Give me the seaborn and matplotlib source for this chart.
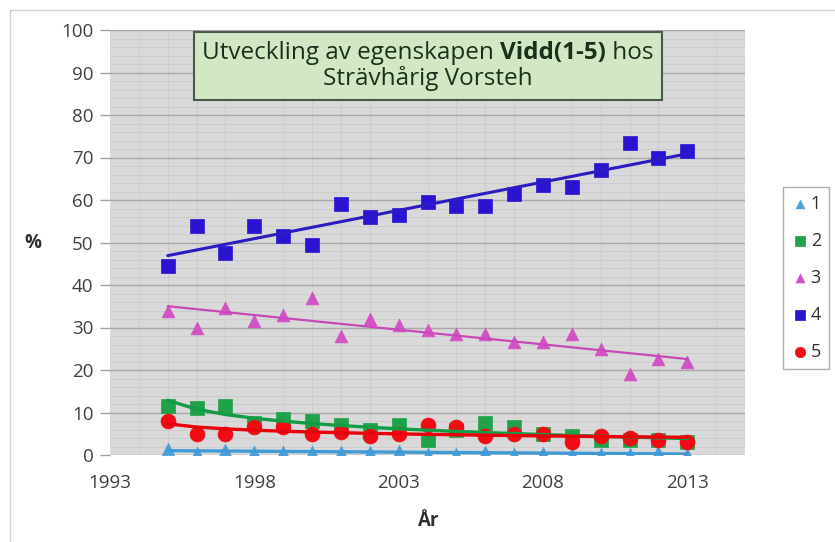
import numpy as np
import pandas as pd
import seaborn as sns
import matplotlib.pyplot as plt
from matplotlib.lines import Line2D
from matplotlib.offsetbox import TextArea, HPacker, VPacker, AnchoredOffsetbox

# Data
years = list(range(1995, 2014))
labels = ['1', '2', '3', '4', '5']
vidd_1 = [1.5, 0.5, 1.2, 0.8, 0.8, 0.8, 0.8, 0.8, 1.0, 0.3, 0.2, 0.6, 0.3, 0.4, 0.2, 0.3, 0.3, 0.8, 0.3]
vidd_2 = [11.5, 11.0, 11.5, 7.5, 8.5, 8.0, 7.0, 6.0, 7.0, 3.5, 6.0, 7.5, 6.5, 5.0, 4.5, 3.5, 3.5, 3.5, 3.0]
vidd_3 = [34.0, 30.0, 34.5, 31.5, 33.0, 37.0, 28.0, 32.0, 30.5, 29.5, 28.5, 28.5, 26.5, 26.5, 28.5, 25.0, 19.0, 22.5, 22.0]
vidd_4 = [44.5, 54.0, 47.5, 54.0, 51.5, 49.5, 59.0, 56.0, 56.5, 59.5, 58.5, 58.5, 61.5, 63.5, 63.0, 67.0, 73.5, 70.0, 71.5]
vidd_5 = [8.0, 5.0, 5.0, 6.5, 6.5, 5.0, 5.5, 4.5, 5.0, 7.0, 6.5, 4.5, 5.0, 5.0, 3.0, 4.5, 4.0, 3.5, 3.0]

series = [vidd_1, vidd_2, vidd_3, vidd_4, vidd_5]
markers = ['^', 's', '^', 's', 'o']
sizes = [80, 110, 85, 110, 115]
point_colors = ['#4d9fd6', '#1fa24a', '#d254c4', '#2a14d2', '#f20a14']
line_colors = ['#3f9ad6', '#119c45', '#c84ab8', '#2a1cc0', '#e8000a']
line_widths = [2.4, 2.4, 1.6, 2.2, 2.4]
trend_kind = ['lin', 'log', 'lin', 'lin', 'log']

sns.set_style('white')
plt.rcParams['font.family'] = ['Open Sans', 'DejaVu Sans']

fig = plt.figure(figsize=(8.35, 5.42), dpi=100)
ax = fig.add_axes([110 / 835, 87 / 542, 635 / 835, 425 / 542])
ax.set_facecolor('#d9d9d9')

x = np.array(years, dtype=float)
idx = np.arange(1, len(years) + 1)
for i, vals in enumerate(series):
    y = np.array(vals)
    sns.scatterplot(x=x, y=y, marker=markers[i], s=sizes[i], color=point_colors[i],
                    edgecolor=point_colors[i], linewidth=0.5, ax=ax, zorder=2 + i * 0.1,
                    label=labels[i])
    # Excel style trend lines
    if trend_kind[i] == 'lin':
        fit = np.polyval(np.polyfit(x, y, 1), x)
    else:
        b, a = np.polyfit(np.log(idx), y, 1)
        fit = a + b * np.log(idx)
    sns.lineplot(x=x, y=fit, color=line_colors[i], linewidth=line_widths[i],
                 ax=ax, zorder=4 + i * 0.1, legend=False)

ax.set_xlim(1993, 2015)
ax.set_ylim(0, 100)
ax.set_xticks([1993, 1998, 2003, 2008, 2013])
ax.set_yticks(range(0, 101, 10))
ax.set_xticks(range(1993, 2016), minor=True)
ax.set_yticks(range(0, 101, 2), minor=True)
ax.grid(which='major', axis='y', color='#a9a9a9', linewidth=1.0, zorder=0)
ax.grid(which='minor', color='#cbcbcb', linewidth=0.6, zorder=0)
ax.set_axisbelow(True)
for sp in ax.spines.values():
    sp.set_visible(False)
ax.tick_params(axis='y', which='major', length=7, color='#a0a0a0', width=1,
               labelsize=13.5, labelcolor='#404040', pad=5, left=True)
ax.tick_params(axis='x', which='major', length=0, labelsize=13.5, labelcolor='#404040', pad=14)
ax.tick_params(which='minor', length=0)

ax.set_xlabel('År', fontsize=13.5, fontweight='bold', color='#303030', labelpad=13)
ax.set_ylabel('%', fontsize=13.5, fontweight='bold', color='#303030', rotation=0,
              labelpad=20, va='center')

# legend (markers only)
leg = ax.legend(loc='center', bbox_to_anchor=(806 / 835, 264 / 542),
                bbox_transform=fig.transFigure, frameon=True, fancybox=False,
                fontsize=13, markerscale=0.7, handletextpad=0.1, handlelength=1.0,
                labelspacing=1.05, borderpad=0.45, borderaxespad=0)
leg.get_frame().set_edgecolor('#9a9a9a')
leg.get_frame().set_linewidth(1.0)
for t in leg.get_texts():
    t.set_color('#303030')

# title box with a bold part
tprops = dict(fontsize=17.5, color='#1a301a', fontfamily='Open Sans')
row1 = HPacker(children=[TextArea('Utveckling av egenskapen ', textprops=tprops),
                         TextArea('Vidd(1-5)', textprops=dict(tprops, fontweight='bold')),
                         TextArea(' hos', textprops=tprops)], align='baseline', pad=0, sep=0)
row2 = TextArea('Strävhårig Vorsteh', textprops=tprops)
box = VPacker(children=[row1, row2], align='center', pad=0, sep=1)
anch = AnchoredOffsetbox(loc='center', child=box, pad=0.6, borderpad=0, frameon=True,
                         bbox_to_anchor=(428 / 835, 476 / 542), bbox_transform=fig.transFigure)
anch.patch.set_facecolor('#d2e7c3')
anch.patch.set_edgecolor('#4a5a4a')
anch.patch.set_linewidth(1.5)
anch.patch.set_boxstyle('square', pad=0)
fig.add_artist(anch)

# outer chart border
fig.add_artist(Line2D([10 / 835, 10 / 835], [0, 532 / 542], color='#d0d0d0', linewidth=1))
fig.add_artist(Line2D([10 / 835, 1], [532 / 542, 532 / 542], color='#d0d0d0', linewidth=1))

fig.savefig('out.png', dpi=100)
